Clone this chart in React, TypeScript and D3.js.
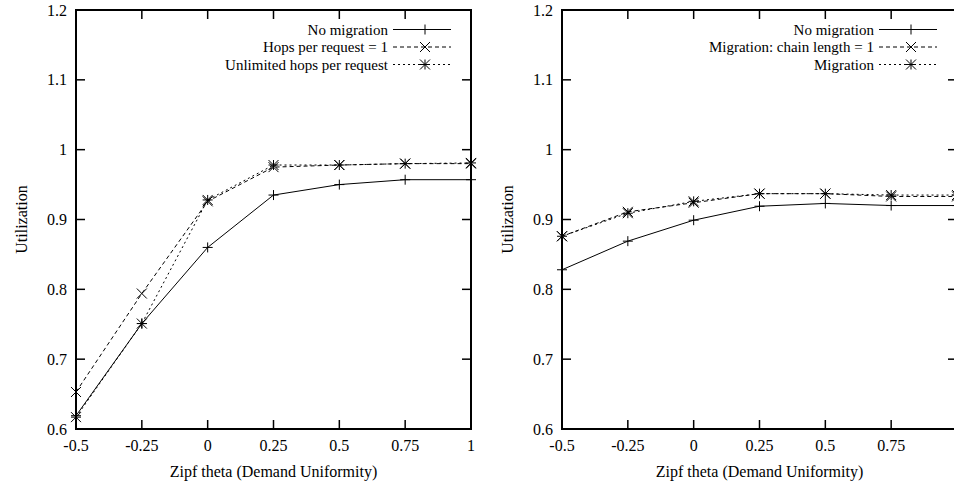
import React, { useRef, useEffect } from "react";
import * as d3 from "d3";

// x values shared by both panels
const thetas = [-0.5, -0.25, 0, 0.25, 0.5, 0.75, 1];
const xTickLabels = ["-0.5", "-0.25", "0", "0.25", "0.5", "0.75", "1"];
const yTicks = [0.6, 0.7, 0.8, 0.9, 1.0, 1.1, 1.2];
const yTickLabels = ["0.6", "0.7", "0.8", "0.9", "1", "1.1", "1.2"];

// left panel
const leftNoMigration = [0.619, 0.751, 0.86, 0.935, 0.95, 0.957, 0.957];
const leftHopsOne = [0.653, 0.794, 0.926, 0.975, 0.978, 0.98, 0.98];
const leftUnlimited = [0.617, 0.751, 0.928, 0.978, 0.978, 0.98, 0.981];
const leftNames = ["No migration", "Hops per request = 1", "Unlimited hops per request"];

// right panel
const rightNoMigration = [0.828, 0.869, 0.899, 0.919, 0.923, 0.92, 0.92];
const rightChainOne = [0.876, 0.911, 0.924, 0.937, 0.937, 0.933, 0.933];
const rightMigration = [0.876, 0.909, 0.926, 0.937, 0.937, 0.935, 0.935];
const rightNames = ["No migration", "Migration: chain length = 1", "Migration"];

const xTitle = "Zipf theta (Demand Uniformity)";
const yTitle = "Utilization";

const width = 954;
const height = 484;
const font = "Liberation Serif, Tinos, Times New Roman, Times, DejaVu Serif, serif";

// plot box of the left panel; the right one is shifted
const plotW = 395;
const top = 10;
const bottom = 429;
const panelLefts = [76, 562];

const dashes = [null, "4,3", "2,3"];
const markers = ["plus", "cross", "star"];

function drawMarker(g, kind, cx, cy) {
  const s = 5;
  const segs = [];
  if (kind === "plus" || kind === "star") {
    segs.push([cx - s, cy, cx + s, cy], [cx, cy - s, cx, cy + s]);
  }
  if (kind === "cross" || kind === "star") {
    segs.push([cx - s, cy - s, cx + s, cy + s], [cx - s, cy + s, cx + s, cy - s]);
  }
  segs.forEach((p) => {
    g.append("line")
      .attr("x1", p[0]).attr("y1", p[1])
      .attr("x2", p[2]).attr("y2", p[3])
      .attr("stroke", "#000")
      .attr("stroke-width", 1);
  });
}

const App = () => {
  const svgRef = useRef(null);

  useEffect(() => {
    const svg = d3.select(svgRef.current);
    svg.selectAll("*").remove();

    const panels = [
      { left: panelLefts[0], series: [leftNoMigration, leftHopsOne, leftUnlimited], names: leftNames },
      { left: panelLefts[1], series: [rightNoMigration, rightChainOne, rightMigration], names: rightNames },
    ];

    panels.forEach((panel) => {
      const x = d3.scaleLinear().domain([-0.5, 1]).range([panel.left, panel.left + plotW]);
      const y = d3.scaleLinear().domain([0.6, 1.2]).range([bottom, top]);
      const g = svg.append("g").attr("font-family", font).attr("font-size", 16);

      // --- series lines ---
      const line = d3.line()
        .x((d, i) => x(thetas[i]))
        .y((d) => y(d));

      panel.series.forEach((vals, si) => {
        const path = g.append("path")
          .datum(vals)
          .attr("fill", "none")
          .attr("stroke", "#000")
          .attr("stroke-width", 1)
          .attr("d", line);
        if (dashes[si]) path.attr("stroke-dasharray", dashes[si]);
        vals.forEach((v, i) => drawMarker(g, markers[si], x(thetas[i]), y(v)));
      });

      // --- ticks (inward, mirrored) ---
      const tickLen = 9;
      thetas.forEach((t, i) => {
        g.append("line").attr("x1", x(t)).attr("x2", x(t))
          .attr("y1", bottom).attr("y2", bottom - tickLen)
          .attr("stroke", "#000").attr("stroke-width", 1.5);
        g.append("line").attr("x1", x(t)).attr("x2", x(t))
          .attr("y1", top).attr("y2", top + tickLen)
          .attr("stroke", "#000").attr("stroke-width", 1.5);
        // labels past the page edge are not shown in the original
        if (x(t) + 6 <= width) {
          g.append("text")
            .attr("x", x(t))
            .attr("y", 451)
            .attr("text-anchor", "middle")
            .text(xTickLabels[i]);
        }
      });
      yTicks.forEach((t, i) => {
        g.append("line").attr("x1", x.range()[0]).attr("x2", x.range()[0] + tickLen)
          .attr("y1", y(t)).attr("y2", y(t))
          .attr("stroke", "#000").attr("stroke-width", 1.5);
        g.append("line").attr("x1", x.range()[1]).attr("x2", x.range()[1] - tickLen)
          .attr("y1", y(t)).attr("y2", y(t))
          .attr("stroke", "#000").attr("stroke-width", 1.5);
        g.append("text")
          .attr("x", x.range()[0] - 9)
          .attr("y", y(t))
          .attr("dy", "0.35em")
          .attr("text-anchor", "end")
          .text(yTickLabels[i]);
      });

      // --- border ---
      g.append("rect")
        .attr("x", x.range()[0])
        .attr("y", top)
        .attr("width", plotW)
        .attr("height", bottom - top)
        .attr("fill", "none")
        .attr("stroke", "#000")
        .attr("stroke-width", 2);

      // --- titles ---
      g.append("text")
        .attr("x", (x.range()[0] + x.range()[1]) / 2)
        .attr("y", 477)
        .attr("text-anchor", "middle")
        .text(xTitle);

      g.append("text")
        .attr("transform", `translate(${panel.left - 49},${(top + bottom) / 2}) rotate(-90)`)
        .attr("text-anchor", "middle")
        .text(yTitle);

      // --- legend ---
      const legTextX = panel.left + plotW - 83;
      panel.names.forEach((name, si) => {
        const ly = 29.5 + si * 17.5;
        g.append("text")
          .attr("x", legTextX)
          .attr("y", ly)
          .attr("dy", "0.35em")
          .attr("text-anchor", "end")
          .style("font-size", "15px")
          .text(name);
        const sample = g.append("line")
          .attr("x1", legTextX + 5).attr("x2", legTextX + 63)
          .attr("y1", ly).attr("y2", ly)
          .attr("stroke", "#000").attr("stroke-width", 1);
        if (dashes[si]) sample.attr("stroke-dasharray", dashes[si]);
        drawMarker(g, markers[si], legTextX + 37, ly);
      });
    });
  }, []);

  return (
    <div style={{ position: "absolute", left: 0, top: 0, background: "#fff" }}>
      <svg ref={svgRef} width={width} height={height} style={{ display: "block" }}></svg>
    </div>
  );
};

export default App;
